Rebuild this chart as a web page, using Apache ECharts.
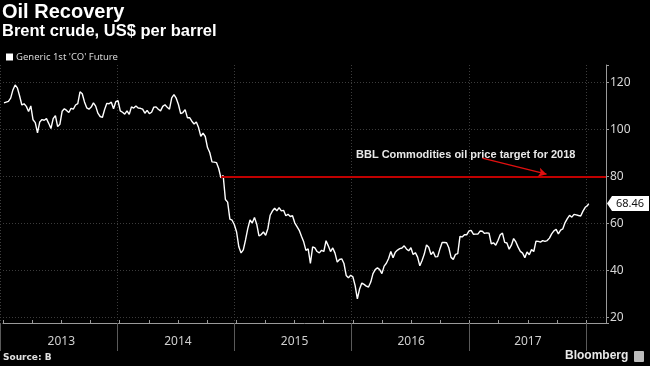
<!DOCTYPE html>
<html><head><meta charset="utf-8">
<script src="https://cdn.jsdelivr.net/npm/echarts@6/dist/echarts.min.js"></script>
<style>html,body{margin:0;padding:0;background:#000;}#c{width:650px;height:366px;}</style>
</head><body><div id="c"></div>
<script>
// Weekly Brent (Generic 1st 'CO' Future), Friday closes starting 2013-01-04
const firstWeek = '2013-01-04';
const prices2013 = [111.3,111.6,111.9,113.3,116.8,118.9,117.7,114.2,110.4,110.9,109.8,107.6,110.0,104.1,102.9,98.5,103.2,104.2,103.9,104.6,102.6,100.4,104.6,105.9,101.2,102.2,107.7,108.8,108.1,107.2,109.0,108.6,110.4,111.0,116.0,115.2,111.7,109.2,108.6,109.5,111.3,109.9,106.9,105.5,105.1,108.5,111.1,110.9,111.6,108.8,111.8,112.2];
const prices2014 = [107.9,107.3,106.5,107.9,106.4,109.6,109.1,110.0,109.1,109.0,108.6,106.9,108.1,106.7,107.3,109.5,109.6,108.6,107.9,109.8,110.5,109.4,108.6,113.4,114.8,113.3,110.6,106.7,107.2,108.4,105.0,105.0,103.5,102.3,103.2,100.8,97.1,98.4,97.0,92.3,90.2,86.2,86.1,85.9,83.4,79.4,80.4,70.2,69.1,61.9,61.4,59.5];
const prices2015 = [56.4,50.1,47.5,48.8,53.0,57.8,61.5,60.2,62.6,59.7,54.7,55.3,56.4,55.0,57.9,63.5,65.3,66.5,65.4,66.8,65.4,65.6,63.3,63.9,63.0,63.3,60.3,58.7,57.1,54.6,52.2,48.6,49.2,43.0,50.1,49.6,48.1,47.5,48.6,48.1,52.7,50.5,48.1,49.6,47.4,43.6,44.7,45.0,43.0,37.9,36.9,38.0];
const prices2016 = [37.3,33.6,28.0,32.2,34.7,34.1,33.4,33.0,35.1,38.7,40.4,41.2,40.4,38.7,41.9,43.1,45.1,48.1,45.4,47.8,48.7,49.3,49.6,50.5,49.2,48.4,49.7,46.8,47.6,45.7,42.0,44.3,47.0,50.9,49.9,46.8,48.0,45.8,45.9,49.2,51.9,51.95,51.8,49.7,45.6,44.75,46.9,47.2,54.5,54.3,55.2,55.2,56.8];
const prices2017 = [57.1,55.45,55.5,55.5,56.8,56.7,55.8,56.0,55.9,51.4,51.8,50.8,52.8,55.2,55.9,52.0,51.7,49.1,50.8,53.6,52.15,49.95,48.15,47.4,45.5,47.9,46.7,48.9,48.1,52.5,52.4,52.1,52.7,52.4,52.75,53.8,55.6,56.9,57.5,55.6,57.2,57.75,60.4,62.1,63.5,62.7,63.9,63.7,63.4,63.2,65.25,66.9];
const prices2018 = [67.6];
const lastDate = '2018-01-09';
const lastPrice = 68.46;
const yearLabels = ['2013','2014','2015','2016','2017'];
const targetPrice = 80;
const targetStart = '2014-11-14';
const seriesName = "Generic 1st 'CO' Future";

function toYear(d){
  const y = d.getUTCFullYear();
  const s = Date.UTC(y,0,1), e = Date.UTC(y+1,0,1);
  return y + (d.getTime()-s)/(e-s);
}
const allPrices = [].concat(prices2013,prices2014,prices2015,prices2016,prices2017,prices2018);
const t0 = new Date(firstWeek+'T00:00:00Z').getTime();
const data = allPrices.map((v,i)=>[toYear(new Date(t0 + i*7*86400000)), v]);
data.push([toYear(new Date(lastDate+'T00:00:00Z')), lastPrice]);

const X_MIN = 2013, X_MAX = 2018.17, Y_MIN = 17.7, Y_MAX = 127.4;
const grey = '#9a9a9a';

const chart = echarts.init(document.getElementById('c'), null, {renderer:'canvas'});
chart.setOption({
  backgroundColor:'#000',
  animation:false,
  legend:{ data:[seriesName], left:1, top:47, icon:'rect', itemWidth:7, itemHeight:7, itemGap:4,
    textStyle:{color:'#d8d8d8', fontSize:9.5, fontFamily:'Noto Sans', padding:[0,0,0,-2]} },
  grid:[
    {left:-8, right:44, top:65, bottom:43},
    {left:-8, right:64, top:65, bottom:43}
  ],
  xAxis:[
    {type:'value', gridIndex:0, min:X_MIN, max:X_MAX, interval:0.25,
      axisLine:{show:true, lineStyle:{color:grey, width:1}},
      axisTick:{show:true, inside:true, length:3, lineStyle:{color:grey}},
      splitLine:{show:false},
      axisLabel:{show:true, margin:13, color:'#cfcfcf', fontSize:12, fontFamily:'Noto Sans',
        formatter:function(v){ const f = v - Math.floor(v); if (Math.abs(f-0.5)<1e-6){ const i = Math.floor(v)-2013; return yearLabels[i] || ''; } return ''; } } },
    {type:'value', gridIndex:1, min:2013, max:2018, interval:1,
      axisLine:{show:false},
      axisTick:{show:true, inside:false, length:28, lineStyle:{color:'#5a5a5a'}},
      axisLabel:{show:false},
      splitLine:{show:true, lineStyle:{color:'#3c3c3c', type:[1,2], width:1}} }
  ],
  yAxis:[
    {type:'value', gridIndex:0, position:'right', min:Y_MIN, max:Y_MAX, minInterval:20, maxInterval:20,
      axisLine:{show:true, lineStyle:{color:grey}},
      axisTick:{show:true, length:3, lineStyle:{color:grey}},
      axisLabel:{margin:4, color:'#d8d8d8', fontSize:12, fontFamily:'Noto Sans',
        formatter:function(v){ return (Math.abs(v%20)<1e-6) ? String(v) : ''; } },
      splitLine:{show:true, showMinLine:false, showMaxLine:false, lineStyle:{color:'#3c3c3c', type:[1,2]}} },
    {type:'value', gridIndex:1, min:Y_MIN, max:Y_MAX, show:false, splitLine:{show:false}}
  ],
  series:[{
    name:seriesName, type:'line', xAxisIndex:0, yAxisIndex:0, data:data,
    showSymbol:false, symbol:'none', color:'#ffffff',
    lineStyle:{color:'#ffffff', width:1.4},
    markLine:{ silent:true, symbol:['none','none'], label:{show:false},
      data:[
        [{coord:[toYear(new Date(targetStart+'T00:00:00Z')), targetPrice], lineStyle:{color:'#c00000', width:2, type:'solid'}},
         {coord:[X_MAX, targetPrice]}],
        [{coord:[2017.11, 87.8], symbol:'none', lineStyle:{color:'#e01010', width:1.5, type:'solid'}},
         {coord:[2017.66, 81.0], symbol:'arrow', symbolSize:[7,8]}]
      ] },
    markPoint:{ silent:true,
      data:[{coord:[X_MAX, lastPrice], value:lastPrice}],
      symbol:'path://M0,7 L5,0 L42,0 L42,14 L5,14 Z', symbolSize:[42,15], symbolOffset:[22,0],
      itemStyle:{color:'#ffffff'},
      label:{show:true, position:'inside', offset:[2,0], color:'#111', fontSize:11, fontFamily:'Noto Sans',
        formatter:function(p){ return p.value.toFixed(2); } } }
  }],
  graphic:[
    {type:'text', left:2, top:2, style:{text:'Oil Recovery', fill:'#fff', font:'bold 20px "Liberation Sans"'}},
    {type:'text', left:2, top:23, style:{text:'Brent crude, US$ per barrel', fill:'#fff', font:'bold 16.5px "Liberation Sans"'}},
    {type:'text', left:356, top:149, style:{text:'BBL Commodities oil price target for 2018', fill:'#e8e8e8', font:'bold 11px "Liberation Sans"'}},
    {type:'text', left:3, top:353, style:{text:'Source: B', fill:'#e0e0e0', font:'bold 9px "DejaVu Sans"'}},
    {type:'text', left:565, top:350, style:{text:'Bloomberg', fill:'#e8e8e8', font:'bold 12px "Liberation Sans"'}},
    {type:'rect', left:634, top:351, shape:{width:10, height:11, r:1}, style:{fill:'#bbb'}}
  ]
});
</script></body></html>
